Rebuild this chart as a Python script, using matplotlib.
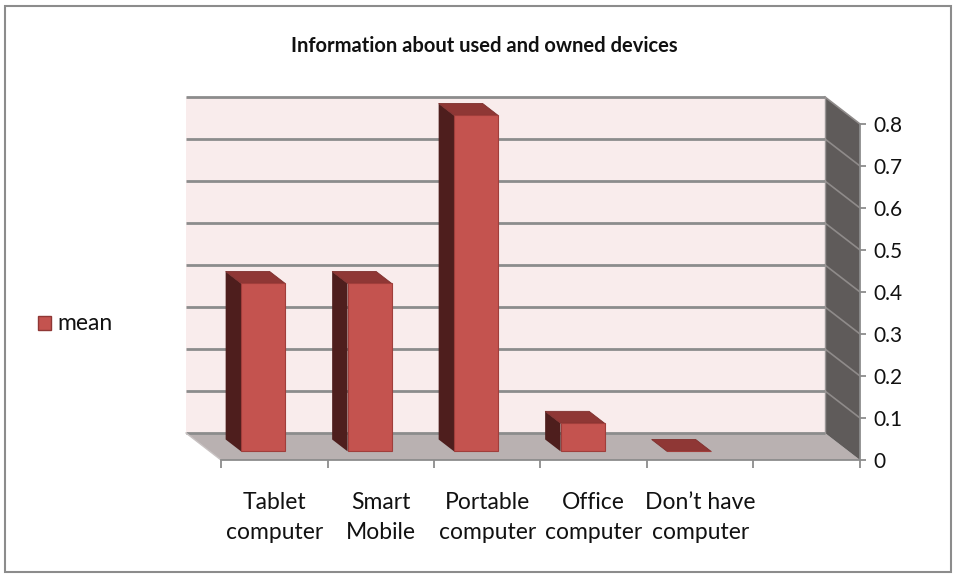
import matplotlib
matplotlib.use("Agg")
import matplotlib.pyplot as plt
from matplotlib.patches import Polygon, Rectangle
import numpy as np

# data
categories = ["Tablet\ncomputer", "Smart\nMobile", "Portable\ncomputer",
              "Office\ncomputer", "Don\u2019t have\ncomputer"]
mean_values = [0.4, 0.4, 0.8, 0.067, 0.0]
y_ticks = [0, 0.1, 0.2, 0.3, 0.4, 0.5, 0.6, 0.7, 0.8]
y_labels = ["0", "0.1", "0.2", "0.3", "0.4", "0.5", "0.6", "0.7", "0.8"]
n_slots = 6  # excel leaves an empty slot on the right

plt.rcParams['font.family'] = ['Lato', 'DejaVu Sans']

W, H = 958, 579
fig = plt.figure(figsize=(W / 100, H / 100), dpi=100)

# front plane of the 3d box, in pixels
x0, x1 = 221, 860
y0, y1 = 460, 124
ax = fig.add_axes([x0 / W, (H - y0) / H, (x1 - x0) / W, (y0 - y1) / H])
ax.set_xlim(0, n_slots)
ax.set_ylim(0, 0.8)

# depth vector (towards the back wall) in data units
px_x = (x1 - x0) / n_slots
px_y = (y0 - y1) / 0.8
DX = -35 / px_x
DY = 27 / px_y

wall_col = '#F9ECEC'
floor_col = '#B9B1B1'
side_col = '#5F5B5A'
grid_col = '#8C8C8C'

# floor
ax.add_patch(Polygon([(DX, DY), (n_slots + DX, DY), (n_slots, 0), (0, 0)],
                     closed=True, facecolor=floor_col, edgecolor='none',
                     clip_on=False, zorder=1))
# back wall
ax.add_patch(Rectangle((DX, DY), n_slots, 0.8, facecolor=wall_col,
                       edgecolor='none', clip_on=False, zorder=1))
# right side wall
ax.add_patch(Polygon([(n_slots + DX, DY), (n_slots + DX, 0.8 + DY),
                      (n_slots, 0.8), (n_slots, 0)],
                     closed=True, facecolor=side_col, edgecolor='none',
                     clip_on=False, zorder=1))

# gridlines on back wall + side wall
for v in y_ticks:
    ax.plot([DX, n_slots + DX], [v + DY, v + DY], color=grid_col, lw=2,
            clip_on=False, zorder=2, solid_capstyle='butt')
    if v > 0:
        ax.plot([n_slots + DX, n_slots], [v + DY, v], color='#8F8B8A', lw=1.2,
                clip_on=False, zorder=2)
ax.plot([n_slots + DX, n_slots + DX], [DY, 0.8 + DY], color='#9A9696', lw=1,
        clip_on=False, zorder=2)
ax.plot([DX, 0], [DY, 0], color='#C8C2C2', lw=1, clip_on=False, zorder=2)

# bars
front_col = '#C4534F'
dark_col = '#4E1E1D'
top_col = '#8F3735'
edge_col = '#A03E3B'
bw = 44 / px_x
f1, f2 = 0.32, 0.76
centers = np.arange(len(categories)) + 0.5
for c, v in zip(centers, mean_values):
    fl = c + f1 * DX - bw / 2
    fb = f1 * DY
    bl = c + f2 * DX - bw / 2
    bb = f2 * DY
    # left side face
    ax.add_patch(Polygon([(bl, bb), (bl, bb + v), (fl, fb + v), (fl, fb)],
                         closed=True, facecolor=dark_col, edgecolor='none',
                         clip_on=False, zorder=3))
    # top face
    ax.add_patch(Polygon([(fl, fb + v), (bl, bb + v), (bl + bw, bb + v),
                          (fl + bw, fb + v)],
                         closed=True, facecolor=top_col, edgecolor='#7E2F2D',
                         lw=0.6, clip_on=False, zorder=3))
ax.bar(centers + f1 * DX, mean_values, width=bw,
       bottom=[f1 * DY] * len(mean_values), color=front_col,
       edgecolor=edge_col, linewidth=0.8, zorder=4, clip_on=False)

# axes styling
for s in ['top', 'left']:
    ax.spines[s].set_visible(False)
ax.spines['bottom'].set_color('#8C8C8C')
ax.spines['right'].set_color('#8C8C8C')
ax.spines['bottom'].set_linewidth(1.3)
ax.spines['right'].set_linewidth(1.3)
ax.spines['bottom'].set_zorder(5)
ax.set_facecolor('none')

ax.yaxis.tick_right()
ax.set_yticks(y_ticks, labels=y_labels)
ax.tick_params(axis='y', direction='out', length=4.5, width=1.3,
               color='#8C8C8C', pad=5, labelsize=15, labelcolor='#111111')

ax.set_xticks(range(n_slots + 1), labels=[''] * (n_slots + 1))
ax.set_xticks(centers, labels=categories, minor=True)
ax.tick_params(axis='x', which='major', direction='out', length=5.5,
               width=1.3, color='#8C8C8C')
ax.tick_params(axis='x', which='minor', length=0, pad=23, labelsize=16.5,
               labelcolor='#111111')
for lab in ax.get_xticklabels(minor=True):
    lab.set_linespacing(1.55)

# title
fig.text(484 / W, 1 - 46 / H, "Information about used and owned devices",
         ha='center', va='center', fontsize=14.5, fontweight='bold',
         color='#111111')

# legend
fig.patches.append(Rectangle((38 / W, 1 - 330 / H), 13 / W, 14 / H,
                             transform=fig.transFigure, facecolor=front_col,
                             edgecolor='#8F3735', lw=1))
fig.text(57 / W, 1 - 323 / H, "mean", ha='left', va='center', fontsize=16.5,
         color='#111111')

# outer chart border
fig.patches.append(Rectangle((5 / W, 1 - 572 / H), 946 / W, 566 / H,
                             transform=fig.transFigure, facecolor='none',
                             edgecolor='#8C8C8C', lw=1.5))

fig.savefig("out.png", dpi=100)
